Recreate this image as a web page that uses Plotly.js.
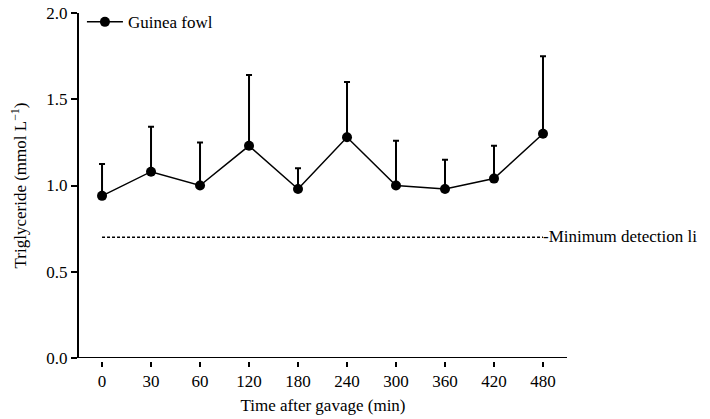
<!DOCTYPE html>
<html>
<head>
<meta charset="utf-8">
<script src="https://cdn.plot.ly/plotly-3.0.1.min.js"></script>
<style>html,body{margin:0;padding:0;background:#fff;}#chart{width:710px;height:419px;}</style>
</head>
<body>
<div id="chart"></div>
<script>
// Data
const timeLabels = ["0", "30", "60", "120", "180", "240", "300", "360", "420", "480"];
const triglycerideMean = [0.94, 1.08, 1.00, 1.23, 0.98, 1.28, 1.00, 0.98, 1.04, 1.30];
const triglycerideErrUp = [0.185, 0.26, 0.25, 0.41, 0.12, 0.32, 0.26, 0.17, 0.19, 0.45];
const errDown = [0, 0, 0, 0, 0, 0, 0, 0, 0, 0];
const detectionLimit = 0.70;
const seriesName = "Guinea fowl";
const limitLabel = "Minimum detection li";

const FONT = "Liberation Serif";
const FS = 17;

const traces = [
  {
    x: timeLabels,
    y: triglycerideMean,
    name: seriesName,
    mode: "lines+markers",
    line: {color: "#000", width: 1.5},
    marker: {color: "#000", size: 10},
    error_y: {
      type: "data",
      symmetric: false,
      array: triglycerideErrUp,
      arrayminus: errDown,
      color: "#000",
      thickness: 2,
      width: 3
    }
  },
  {
    x: [timeLabels[0], timeLabels[timeLabels.length - 1]],
    y: [detectionLimit, detectionLimit],
    mode: "lines",
    line: {color: "#000", width: 1.5, dash: "3px,2px"},
    showlegend: false,
    hoverinfo: "skip"
  },
  {
    x: [timeLabels[timeLabels.length - 1]],
    y: [detectionLimit],
    mode: "text",
    text: ["-" + limitLabel],
    textposition: "middle right",
    textfont: {family: FONT, size: FS, color: "#000"},
    cliponaxis: false,
    showlegend: false,
    hoverinfo: "skip"
  }
];

const plotH = 419 - 13 - 58;
const layout = {
  width: 710,
  height: 419,
  margin: {l: 79, r: 143, t: 13, b: 58, autoexpand: false},
  paper_bgcolor: "#fff",
  plot_bgcolor: "#fff",
  font: {family: FONT, size: FS, color: "#000"},
  showlegend: true,
  legend: {
    x: 0.006, y: 1.025, xanchor: "left", yanchor: "top",
    bgcolor: "rgba(0,0,0,0)",
    font: {family: FONT, size: FS, color: "#000"},
    itemwidth: 36
  },
  xaxis: {
    type: "category",
    categoryorder: "array",
    categoryarray: timeLabels,
    range: [-0.47, 9.49],
    anchor: "free",
    position: 0,
    showline: false,
    showgrid: false,
    zeroline: false,
    ticks: "outside",
    ticklen: 5,
    tickwidth: 2,
    tickcolor: "#000",
    tickfont: {family: FONT, size: FS, color: "#000"},
    title: {text: "Time after gavage (min)", font: {family: FONT, size: FS, color: "#000"}, standoff: 8}
  },
  yaxis: {
    domain: [3 / plotH, 1],
    range: [0, 2.0],
    tickvals: [0, 0.5, 1.0, 1.5, 2.0],
    ticktext: ["0.0", "0.5", "1.0", "1.5", "2.0"],
    showline: true,
    linewidth: 2,
    linecolor: "#000",
    showgrid: false,
    zeroline: false,
    ticks: "outside",
    ticklen: 6,
    tickwidth: 2,
    tickcolor: "#000",
    tickfont: {family: FONT, size: FS, color: "#000"},
    title: {text: "Triglyceride (mmol L<sup>\u22121</sup>)", font: {family: FONT, size: FS, color: "#000"}, standoff: 15}
  },
  shapes: [
    {type: "line", xref: "paper", yref: "y", x0: 0, x1: 1, y0: 0, y1: 0,
     line: {color: "#000", width: 2}}
  ]
};

Plotly.newPlot("chart", traces, layout, {displayModeBar: false, staticPlot: true});
</script>
</body>
</html>
